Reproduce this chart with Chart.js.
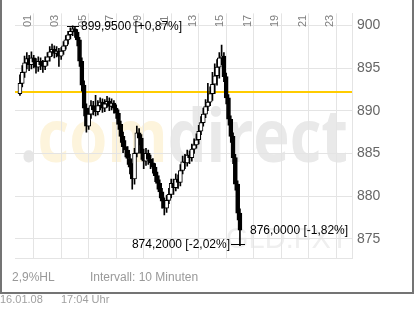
<!DOCTYPE html>
<html lang="de">
<head>
<meta charset="utf-8">
<title>GLD.FXT Intraday</title>
<script src="https://cdn.jsdelivr.net/npm/chart.js@4.4.1/dist/chart.umd.min.js"></script>
<style>
  html, body { margin: 0; padding: 0; background: #fff; overflow: hidden; }
  #wrap { position: relative; width: 417px; height: 312px; }
  #wrap canvas { position: absolute; left: 0; top: 0; }
  .foot { position: absolute; font: 12px/12px "Liberation Sans", Arial, sans-serif; color: #999; white-space: nowrap; }
  .date { font-size: 11px; line-height: 11px; color: #a0a0a0; }
</style>
</head>
<body>
<div id="wrap">
  <canvas id="chart" width="417" height="312"></canvas>
  <span class="foot" style="left:12px;top:271px">2,9%HL</span>
  <span class="foot" style="left:90px;top:271px">Intervall: 10 Minuten</span>
  <span class="foot date" style="left:0px;top:294px">16.01.08</span>
  <span class="foot date" style="left:61px;top:294px">17:04 Uhr</span>
</div>
<script>
// ─── DATA ───────────────────────────────
// 10-minute candles, first one at 01:00
const startHour = 1;
const stepMinutes = 10;

const opens = [
  892.0, 893.2, 894.5, 895.6, 896.1, 895.4, 896.2, 895.7, 895.1, 895.8,
  895.4, 895.2, 895.8, 896.3, 896.9, 897.2, 896.7, 897.0, 896.4, 897.0,
  897.6, 898.3, 898.9, 899.3, 899.6, 899.2, 898.3, 895.8, 893.0, 890.3,
  888.2, 889.6, 890.6, 890.1, 889.9, 890.6, 891.0, 890.3, 890.8, 891.1,
  890.5, 890.9, 890.3, 889.7, 888.4, 887.0, 885.8, 885.4, 884.4, 883.4,
  882.0, 885.0, 887.4, 886.8, 885.0, 884.1, 885.0, 884.3, 883.9, 883.4,
  882.4, 881.5, 880.5, 879.4, 878.6, 879.5, 880.2, 881.5, 881.0, 882.0,
  881.6, 883.0, 884.0, 883.9, 884.8, 884.5, 885.5, 886.0, 886.6, 887.6,
  888.6, 889.6, 890.5, 891.0, 892.0, 893.1, 894.1, 895.1, 896.2, 896.4,
  894.0, 891.5, 889.0, 887.0, 884.5, 881.4, 878.0
];
const highs = [
  894.2, 895.3, 896.4, 896.8, 896.5, 896.9, 896.5, 896.1, 896.3, 896.2,
  895.9, 896.3, 896.8, 897.5, 897.8, 897.6, 897.5, 897.3, 897.4, 898.1,
  898.8, 899.3, 899.7, 899.95, 899.8, 899.5, 898.6, 896.2, 893.5, 890.8,
  890.3, 891.2, 891.1, 891.8, 891.2, 891.5, 891.4, 891.3, 891.7, 891.5,
  891.4, 891.2, 890.7, 890.1, 888.8, 887.5, 886.5, 885.8, 884.9, 883.8,
  885.6, 888.2, 887.9, 887.2, 885.5, 885.6, 885.4, 884.8, 884.4, 883.8,
  882.8, 881.9, 880.9, 879.8, 880.1, 880.9, 882.0, 882.0, 882.6, 882.5,
  883.7, 884.7, 884.9, 885.4, 885.3, 886.1, 886.7, 887.3, 888.3, 889.3,
  890.3, 891.3, 893.2, 892.8, 894.5, 895.5, 896.0, 896.8, 897.7, 896.8,
  894.4, 891.9, 889.4, 887.4, 884.9, 881.8, 878.5
];
const lows = [
  891.8, 892.8, 893.9, 894.9, 894.7, 894.9, 895.0, 894.4, 894.6, 894.8,
  894.5, 894.8, 895.3, 895.8, 896.4, 896.2, 896.3, 895.2, 896.0, 896.6,
  897.2, 897.8, 898.4, 898.8, 898.6, 897.6, 895.2, 892.3, 889.4, 887.5,
  887.8, 889.1, 889.5, 889.4, 889.5, 890.1, 889.8, 889.9, 890.4, 890.0,
  890.1, 889.7, 889.1, 887.8, 886.3, 885.1, 884.6, 883.7, 882.6, 880.8,
  881.4, 884.6, 886.0, 884.3, 883.2, 883.6, 883.7, 883.2, 882.7, 881.7,
  880.8, 879.8, 878.6, 877.8, 878.1, 879.1, 879.8, 880.2, 880.6, 880.9,
  881.2, 882.6, 883.2, 883.5, 883.8, 884.1, 885.0, 885.6, 886.1, 887.2,
  888.2, 889.2, 890.0, 890.6, 891.2, 892.0, 893.0, 893.8, 895.4, 893.4,
  890.8, 888.3, 886.3, 883.8, 880.7, 877.2, 874.2
];
const closes = [
  893.2, 894.5, 895.6, 896.1, 895.4, 896.2, 895.7, 895.1, 895.8, 895.4,
  895.2, 895.8, 896.3, 896.9, 897.2, 896.7, 897.0, 896.4, 897.0, 897.6,
  898.3, 898.9, 899.3, 899.6, 899.2, 898.3, 895.8, 893.0, 890.3, 888.2,
  889.6, 890.6, 890.1, 889.9, 890.6, 891.0, 890.3, 890.8, 891.1, 890.5,
  890.9, 890.3, 889.7, 888.4, 887.0, 885.8, 885.4, 884.4, 883.4, 882.0,
  885.0, 887.4, 886.8, 885.0, 884.1, 885.0, 884.3, 883.9, 883.4, 882.4,
  881.5, 880.5, 879.4, 878.6, 879.5, 880.2, 881.5, 881.0, 882.0, 881.6,
  883.0, 884.0, 883.9, 884.8, 884.5, 885.5, 886.0, 886.6, 887.6, 888.6,
  889.6, 890.5, 891.0, 892.0, 893.1, 894.1, 895.1, 896.2, 896.4, 894.0,
  891.5, 889.0, 887.0, 884.5, 881.4, 878.0, 876.0
];

const prevClose  = 892.21;
const hourTicks  = [1, 3, 5, 7, 9, 11, 13, 15, 17, 19, 21, 23];
const priceTicks = [875, 880, 885, 890, 895, 900];

const times = closes.map((_, i) => startHour + i * stepMinutes / 60);

// ─── HELPERS ────────────────────────────
const fmtDe = (v, d) => v.toFixed(d).replace('.', ',');
const pctOf = v => {
  const p = (v / prevClose - 1) * 100;
  return (p >= 0 ? '+' : '') + fmtDe(p, 2) + '%';
};
const GRID = '#e4e4e4';

// ─── BACKGROUND: frame + watermark ──────
const backdrop = {
  id: 'backdrop',
  beforeDraw(chart) {
    const c = chart.ctx;
    c.save();
    c.fillStyle = '#fff';
    c.fillRect(0, 0, chart.width, chart.height);

    // .comdirect watermark
    c.font = 'bold 74px "Open Sans", sans-serif';
    c.textBaseline = 'alphabetic';
    const full = c.measureText('.comdirect').width;
    c.translate(20, 162);
    c.scale(328 / full, 1);
    let x = 0;
    [['.', '#e6e6e6'], ['com', '#fdf4dc'], ['direct', '#e9e9e9']].forEach(([t, col]) => {
      c.fillStyle = col;
      c.fillText(t, x, 0);
      x += c.measureText(t).width;
    });
    c.restore();

    c.save();
    c.font = '29px "Liberation Sans", Arial, sans-serif';
    c.fillStyle = '#efefef';
    c.fillText('GLD.FXT', 226, 248);
    c.restore();
  },
  afterDraw(chart) {
    const c = chart.ctx;
    c.save();
    c.fillStyle = '#747474';
    c.fillRect(0, 0, 2, 294);
    c.fillRect(412, 0, 2, 294);
    c.fillRect(0, 292, 414, 2);
    c.restore();
  }
};

// ─── PREVIOUS CLOSE LINE ────────────────
const refLine = {
  id: 'refLine',
  beforeDatasetsDraw(chart) {
    const { ctx: c, chartArea: a, scales: { y } } = chart;
    const py = Math.round(y.getPixelForValue(prevClose));
    c.save();
    c.strokeStyle = '#ffcc00';
    c.lineWidth = 2;
    c.beginPath();
    c.moveTo(a.left, py);
    c.lineTo(a.right, py);
    c.stroke();
    c.restore();
  }
};

// ─── HOUR LABELS + HIGH/LOW/LAST ────────
const labels = {
  id: 'labels',
  afterDatasetsDraw(chart) {
    const { ctx: c, scales: { x, y } } = chart;
    c.save();

    // rotated hour labels at top
    c.font = '11px "Liberation Sans", Arial, sans-serif';
    c.fillStyle = '#808080';
    c.textAlign = 'left';
    c.textBaseline = 'alphabetic';
    hourTicks.forEach(h => {
      const px = Math.round(x.getPixelForValue(h));
      c.save();
      c.translate(px + 10.5, 27);
      c.rotate(-Math.PI / 2);
      c.fillText(String(h).padStart(2, '0'), 0, 0);
      c.restore();
    });

    const hi = highs.indexOf(Math.max(...highs));
    const lo = lows.indexOf(Math.min(...lows));
    const last = closes.length - 1;

    c.font = '12px "Liberation Sans", Arial, sans-serif';
    c.fillStyle = '#000';
    c.strokeStyle = '#000';
    c.lineWidth = 1;
    c.textBaseline = 'middle';

    // high
    let px = Math.round(x.getPixelForValue(times[hi]));
    let py = Math.round(y.getPixelForValue(highs[hi])) + 0.5;
    c.beginPath(); c.moveTo(px - 6, py); c.lineTo(px + 6, py); c.stroke();
    c.textAlign = 'left';
    c.fillText(fmtDe(highs[hi], 4) + ' [' + pctOf(highs[hi]) + ']', px + 8, py);

    // low
    px = Math.round(x.getPixelForValue(times[lo]));
    py = Math.round(y.getPixelForValue(lows[lo])) - 1.5;
    c.beginPath(); c.moveTo(px - 9, py); c.lineTo(px + 5, py); c.stroke();
    c.textAlign = 'right';
    c.fillText(fmtDe(lows[lo], 4) + ' [' + pctOf(lows[lo]) + ']', px - 10, py);

    // last
    px = Math.round(x.getPixelForValue(times[last]));
    py = y.getPixelForValue(closes[last]);
    c.textAlign = 'left';
    c.fillText(fmtDe(closes[last], 4) + ' [' + pctOf(closes[last]) + ']', px + 10, py);

    c.restore();
  }
};

// ─── CHART ──────────────────────────────
new Chart(document.getElementById('chart'), {
  type: 'bar',
  data: {
    datasets: [
      {
        label: 'Körper',
        data: times.map((t, i) => ({ x: t, y: [opens[i], closes[i]] })),
        backgroundColor: ctx => {
          const r = ctx.raw;
          return r && r.y[1] >= r.y[0] ? '#fff' : '#000';
        },
        borderColor: '#000',
        borderWidth: 1,
        borderSkipped: false,
        barThickness: 4,
        grouped: false
      },
      {
        label: 'Spanne',
        data: times.map((t, i) => ({ x: t, y: [lows[i], highs[i]] })),
        backgroundColor: '#000',
        borderWidth: 0,
        barThickness: 1,
        grouped: false
      }
    ]
  },
  options: {
    responsive: false,
    animation: false,
    events: [],
    layout: { padding: { top: 10, left: 15, right: 0, bottom: 54 } },
    plugins: { legend: { display: false }, tooltip: { enabled: false } },
    scales: {
      x: {
        type: 'linear',
        position: 'bottom',
        min: 0.64,
        max: 25.15,
        offset: false,
        afterBuildTicks: s => { s.ticks = hourTicks.map(v => ({ value: v })); },
        ticks: { display: false },
        grid: { color: GRID, drawTicks: false },
        border: { display: true, color: GRID }
      },
      y: {
        position: 'right',
        min: 872.75,
        max: 901.4,
        afterBuildTicks: s => { s.ticks = priceTicks.map(v => ({ value: v })); },
        afterFit: s => { s.width = 65; },
        ticks: {
          color: '#666',
          padding: 5,
          font: { family: '"Liberation Sans", Arial, sans-serif', size: 14 }
        },
        grid: { color: GRID, drawTicks: false },
        border: { display: true, color: GRID }
      }
    }
  },
  plugins: [backdrop, refLine, labels]
});
</script>
</body>
</html>
